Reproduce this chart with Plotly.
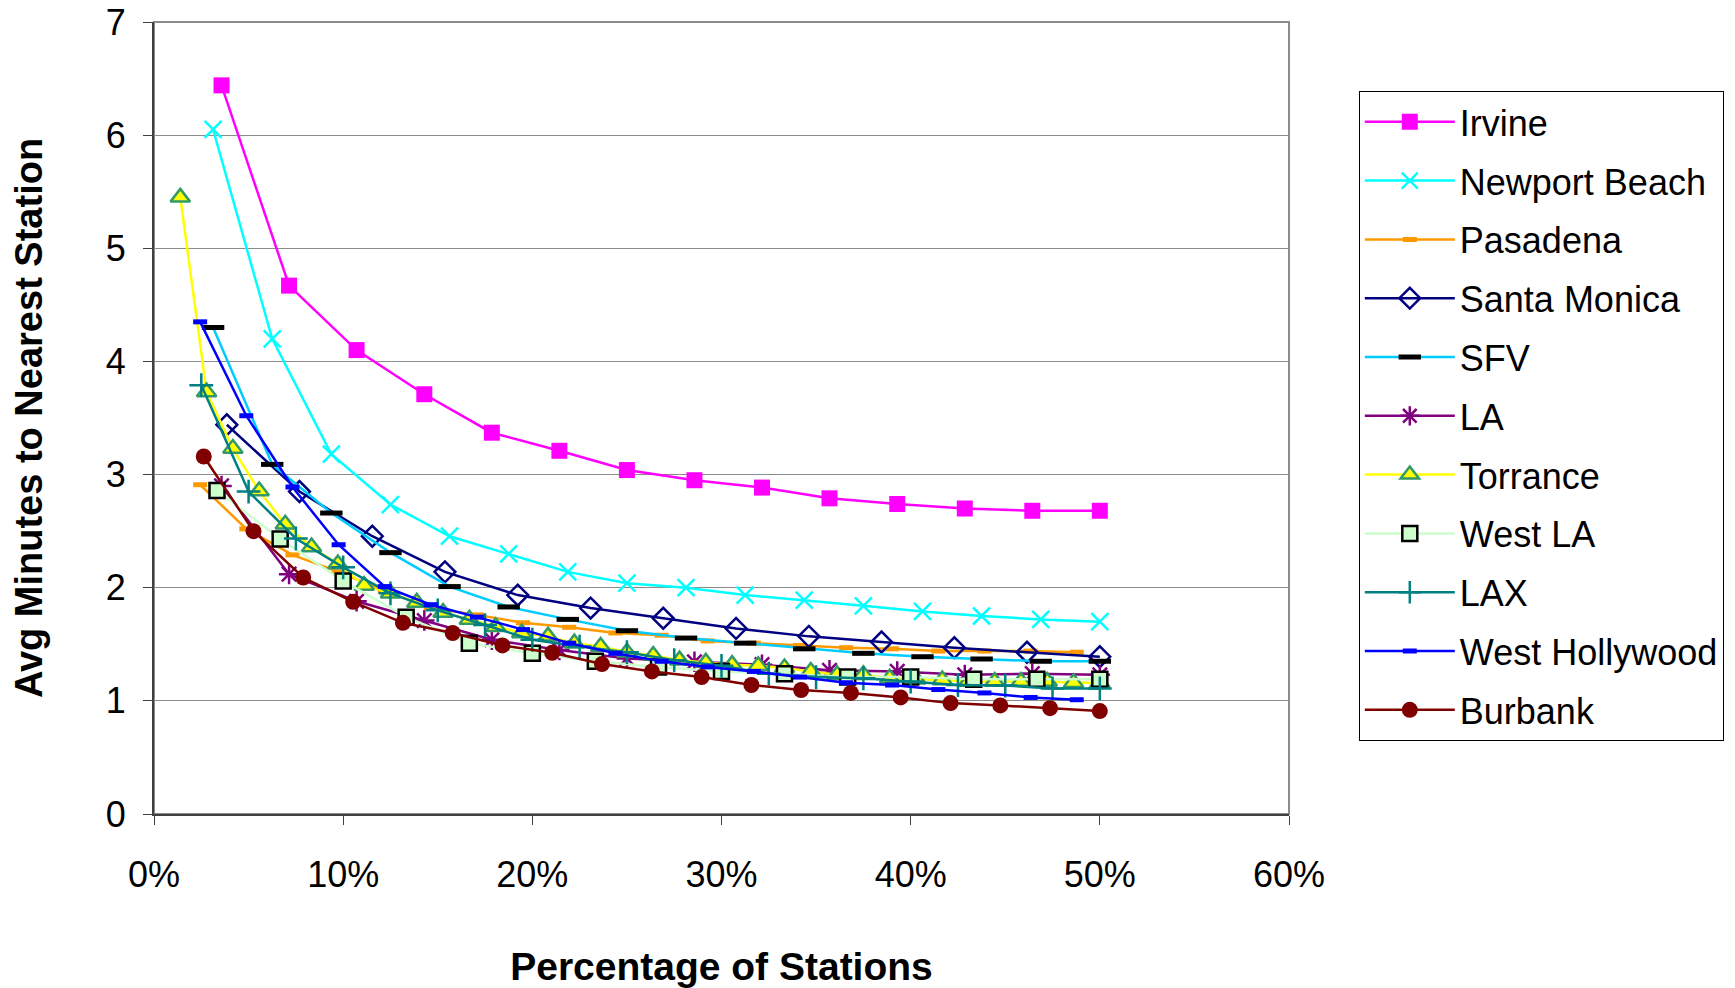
import plotly.graph_objects as go

# ---------------- data ----------------
irvine_x = [3.57, 7.14, 10.71, 14.29, 17.86, 21.43, 25.00, 28.57, 32.14, 35.71, 39.29, 42.86, 46.43, 50.00]
irvine_y = [6.44, 4.67, 4.10, 3.71, 3.37, 3.21, 3.04, 2.95, 2.885, 2.79, 2.74, 2.70, 2.68, 2.68]

newport_x = [3.125, 6.25, 9.375, 12.5, 15.625, 18.75, 21.875, 25.0, 28.125, 31.25, 34.375, 37.5, 40.625, 43.75, 46.875, 50.0]
newport_y = [6.05, 4.20, 3.18, 2.735, 2.455, 2.30, 2.14, 2.04, 2.00, 1.935, 1.89, 1.84, 1.79, 1.75, 1.72, 1.70]

pasadena_x = [2.44, 4.88, 7.32, 9.76, 12.20, 14.63, 17.07, 19.51, 21.95, 24.39, 26.83, 29.27, 31.71, 34.15, 36.59, 39.02, 41.46, 43.90, 46.34, 48.78]
pasadena_y = [2.91, 2.52, 2.29, 2.14, 1.97, 1.82, 1.76, 1.69, 1.65, 1.60, 1.58, 1.53, 1.51, 1.49, 1.47, 1.46, 1.44, 1.44, 1.44, 1.43]

santa_monica_x = [3.85, 7.69, 11.54, 15.38, 19.23, 23.08, 26.92, 30.77, 34.62, 38.46, 42.31, 46.15, 50.00]
santa_monica_y = [3.44, 2.85, 2.455, 2.14, 1.935, 1.82, 1.73, 1.64, 1.57, 1.52, 1.47, 1.43, 1.39]

sfv_x = [3.125, 6.25, 9.375, 12.5, 15.625, 18.75, 21.875, 25.0, 28.125, 31.25, 34.375, 37.5, 40.625, 43.75, 46.875, 50.0]
sfv_y = [4.30, 3.09, 2.66, 2.31, 2.01, 1.83, 1.72, 1.62, 1.555, 1.51, 1.46, 1.42, 1.39, 1.37, 1.35, 1.35]

la_x = [3.57, 7.14, 10.71, 14.29, 17.86, 21.43, 25.00, 28.57, 32.14, 35.71, 39.29, 42.86, 46.43, 50.00]
la_y = [2.90, 2.12, 1.88, 1.71, 1.54, 1.45, 1.375, 1.345, 1.32, 1.27, 1.26, 1.23, 1.24, 1.23]

torrance_x = [1.39, 2.78, 4.17, 5.56, 6.94, 8.33, 9.72, 11.11, 12.50, 13.89, 15.28, 16.67,
              18.06, 19.44, 20.83, 22.22, 23.61, 25.00, 26.39, 27.78, 29.17, 30.56, 31.94, 33.33,
              34.72, 36.11, 37.50, 38.89, 40.28, 41.67, 43.06, 44.44, 45.83, 47.22, 48.61, 50.00]
torrance_y = [5.45, 3.73, 3.23, 2.855, 2.56, 2.36, 2.21, 2.02, 1.95, 1.87, 1.78, 1.72,
              1.655, 1.60, 1.57, 1.51, 1.48, 1.43, 1.40, 1.36, 1.34, 1.32, 1.31, 1.29,
              1.26, 1.23, 1.23, 1.20, 1.19, 1.185, 1.17, 1.17, 1.17, 1.17, 1.16, 1.16]

west_la_x = [3.33, 6.67, 10.00, 13.33, 16.67, 20.00, 23.33, 26.67, 30.00, 33.33, 36.67, 40.00, 43.33, 46.67, 50.00]
west_la_y = [2.86, 2.43, 2.06, 1.74, 1.51, 1.42, 1.35, 1.30, 1.26, 1.24, 1.21, 1.21, 1.19, 1.19, 1.19]

lax_x = [2.5, 5.0, 7.5, 10.0, 12.5, 15.0, 17.5, 20.0, 22.5, 25.0, 27.5, 30.0, 32.5, 35.0, 37.5, 40.0, 42.5, 45.0, 47.5, 50.0]
lax_y = [3.79, 2.85, 2.435, 2.18, 1.95, 1.80, 1.67, 1.54, 1.48, 1.43, 1.36, 1.31, 1.24, 1.21, 1.20, 1.17, 1.14, 1.135, 1.11, 1.11]

weho_x = [2.44, 4.88, 7.32, 9.76, 12.20, 14.63, 17.07, 19.51, 21.95, 24.39, 26.83, 29.27, 31.71, 34.15, 36.59, 39.02, 41.46, 43.90, 46.34, 48.78]
weho_y = [4.35, 3.52, 2.89, 2.38, 2.01, 1.85, 1.74, 1.63, 1.51, 1.42, 1.35, 1.30, 1.26, 1.21, 1.16, 1.14, 1.10, 1.07, 1.03, 1.01]

burbank_x = [2.63, 5.26, 7.89, 10.53, 13.16, 15.79, 18.42, 21.05, 23.68, 26.32, 28.95, 31.58, 34.21, 36.84, 39.47, 42.11, 44.74, 47.37, 50.00]
burbank_y = [3.16, 2.50, 2.09, 1.875, 1.69, 1.60, 1.49, 1.425, 1.325, 1.26, 1.21, 1.14, 1.096, 1.07, 1.03, 0.98, 0.96, 0.935, 0.91]

x_tick_vals = [0, 10, 20, 30, 40, 50, 60]
x_tick_text = ["0%", "10%", "20%", "30%", "40%", "50%", "60%"]
y_tick_vals = [0, 1, 2, 3, 4, 5, 6, 7]

# ---------------- figure ----------------
FONT = "Liberation Sans, Arial, sans-serif"
fig = go.Figure()

def add(name, x, y, line_color, symbol, size, mcolor, mline_color=None, mline_width=0):
    fig.add_trace(go.Scatter(
        x=x, y=y, name=name, mode="lines+markers", legendgroup=name,
        line=dict(color=line_color, width=2.5),
        marker=dict(symbol=symbol, size=size, color=mcolor,
                    line=dict(color=mline_color if mline_color else mcolor, width=mline_width)),
    ))

add("Irvine", irvine_x, irvine_y, "#FF00FF", "square", 16, "#FF00FF")
add("Newport Beach", newport_x, newport_y, "#00FFFF", "x-thin-open", 17, "#00FFFF", "#00FFFF", 2.5)
add("Pasadena", pasadena_x, pasadena_y, "#FF9900", "line-ew", 10, "#FF9900", "#FF9900", 5)
add("Santa Monica", santa_monica_x, santa_monica_y, "#000080", "diamond-open", 16, "#000080", "#000080", 2.5)
add("SFV", sfv_x, sfv_y, "#00CCFF", "line-ew", 16, "#000000", "#000000", 5)
add("LA", la_x, la_y, "#800080", "asterisk-open", 17, "#800080", "#800080", 2.5)
add("Torrance", torrance_x, torrance_y, "#FFFF00", "triangle-up", 17, "#FFFF00", "#339966", 2.5)
add("West LA", west_la_x, west_la_y, "#CCFFCC", "square", 15, "#CCFFCC", "#000000", 2.5)
add("LAX", lax_x, lax_y, "#008080", "cross-thin-open", 17, "#008080", "#008080", 2.5)
add("West Hollywood", weho_x, weho_y, "#0000FF", "line-ew", 10, "#0000FF", "#0000FF", 5)
add("Burbank", burbank_x, burbank_y, "#800000", "circle", 16, "#800000")

fig.update_layout(
    width=1735, height=988,
    margin=dict(l=154, r=446, t=22, b=174, autoexpand=False),
    paper_bgcolor="white", plot_bgcolor="white",
    font=dict(family=FONT, color="black", size=36),
    showlegend=True,
    legend=dict(
        x=1.0615, y=0.913, xanchor="left", yanchor="top",
        bordercolor="#000000", borderwidth=1, bgcolor="white",
        font=dict(family=FONT, size=36, color="black"),
        itemwidth=90, tracegroupgap=9, traceorder="grouped",
    ),
    xaxis=dict(
        range=[0, 60], tickvals=x_tick_vals, ticktext=x_tick_text,
        showgrid=False, zeroline=False, automargin=False,
        showline=True, linecolor="#404040", linewidth=2,
        ticks="outside", ticklen=9, tickcolor="#404040", tickwidth=1,
        ticklabelstandoff=19,
        tickfont=dict(family=FONT, size=36),
        title=dict(text="<b>Percentage of Stations</b>", font=dict(family=FONT, size=39), standoff=61),
    ),
    yaxis=dict(
        range=[0, 7], tickvals=y_tick_vals,
        showgrid=True, gridcolor="#8c8c8c", gridwidth=1, zeroline=False, automargin=False,
        showline=True, linecolor="#404040", linewidth=2,
        ticks="outside", ticklen=9, tickcolor="#404040", tickwidth=1,
        ticklabelstandoff=10,
        tickfont=dict(family=FONT, size=36),
        title=dict(text="<b>Avg Minutes to Nearest Station</b>", font=dict(family=FONT, size=38), standoff=51),
    ),
    shapes=[dict(type="rect", xref="x domain", yref="y domain", x0=0, x1=1, y0=0, y1=1,
                 line=dict(color="#8c8c8c", width=2), layer="below")],
)

fig.write_html("out.html")
